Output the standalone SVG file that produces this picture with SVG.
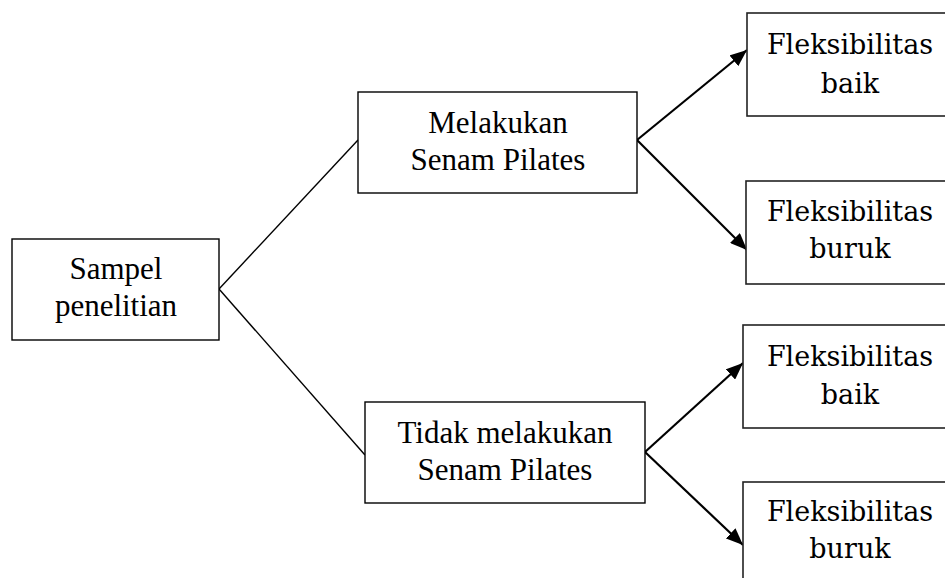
<svg xmlns="http://www.w3.org/2000/svg" width="945" height="578" viewBox="0 0 945 578">
<defs>
<style>
.box{fill:#fff;stroke:#000;stroke-width:1.4}
.rbox{fill:#fff;stroke:#222;stroke-width:1.6}
.t{font-family:"Liberation Serif","Times New Roman",serif;font-size:31px;fill:#000;text-anchor:middle}
.c{font-family:"DejaVu Serif","Liberation Serif",serif;font-size:27px;fill:#000;text-anchor:middle}
.ln{stroke:#000;stroke-width:1.4;fill:none}
.ar{stroke:#000;stroke-width:2.2;fill:none;marker-end:url(#ah)}
</style>
<marker id="ah" markerUnits="userSpaceOnUse" markerWidth="18" markerHeight="14" refX="17" refY="7" orient="auto">
<path d="M0,0 L17,7 L0,14 z" fill="#000"/>
</marker>
</defs>
<rect width="945" height="578" fill="#fff"/>
<g id="connectors">
<line class="ln" x1="219" y1="289" x2="358" y2="140"/>
<line class="ln" x1="219" y1="289" x2="365" y2="455"/>
<line class="ar" x1="637" y1="140" x2="747" y2="50"/>
<line class="ar" x1="637" y1="140" x2="747" y2="250"/>
<line class="ar" x1="645" y1="452" x2="743" y2="363"/>
<line class="ar" x1="645" y1="452" x2="743" y2="545"/>
</g>
<g id="sampel">
<rect class="box" x="12" y="239" width="207" height="101"/>
<text class="t" x="116" y="279">Sampel</text>
<text class="t" x="116" y="316">penelitian</text>
</g>
<g id="melakukan">
<rect class="box" x="358" y="92" width="279" height="101"/>
<text class="t" x="498" y="133">Melakukan</text>
<text class="t" x="498" y="170">Senam Pilates</text>
</g>
<g id="tidak">
<rect class="box" x="365" y="402" width="280" height="101"/>
<text class="t" x="505" y="443">Tidak melakukan</text>
<text class="t" x="505" y="480">Senam Pilates</text>
</g>
<g id="fleks1">
<rect class="rbox" x="747" y="13" width="220" height="103"/>
<text class="c" x="850" y="54">Fleksibilitas</text>
<text class="c" x="850" y="93">baik</text>
</g>
<g id="fleks2">
<rect class="rbox" x="746" y="181" width="220" height="103"/>
<text class="c" x="850" y="221">Fleksibilitas</text>
<text class="c" x="850" y="258">buruk</text>
</g>
<g id="fleks3">
<rect class="rbox" x="743" y="325" width="220" height="103"/>
<text class="c" x="850" y="366">Fleksibilitas</text>
<text class="c" x="850" y="404">baik</text>
</g>
<g id="fleks4">
<rect class="rbox" x="743" y="482" width="220" height="120"/>
<text class="c" x="850" y="521">Fleksibilitas</text>
<text class="c" x="850" y="558">buruk</text>
</g>
</svg>
